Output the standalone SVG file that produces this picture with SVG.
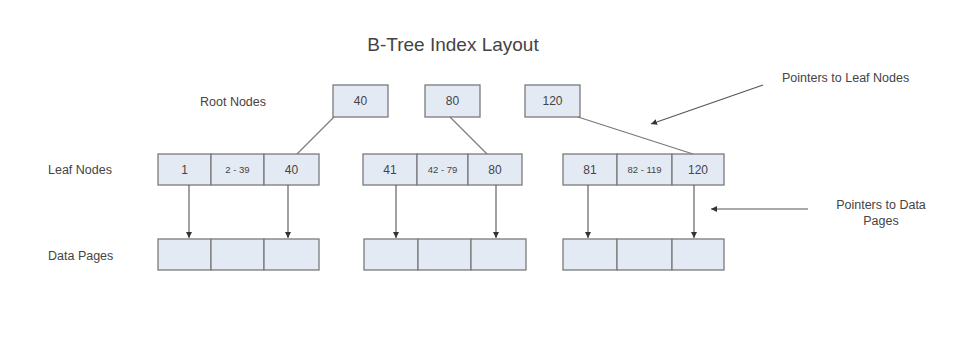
<svg xmlns="http://www.w3.org/2000/svg" width="977" height="340" viewBox="0 0 977 340">
<style>
.bx{fill:#e4eaf4;stroke:#7a7a7a;stroke-width:1.3}
.t{font-family:"Liberation Sans",Arial,sans-serif;fill:#444;font-size:12px;text-anchor:middle}
.ts{font-size:9.5px}
.lbl{font-family:"Liberation Sans",Arial,sans-serif;fill:#444;font-size:12.5px}
.ln{stroke:#777;stroke-width:1.1;fill:none}
.ar{stroke:#555;stroke-width:1.1;fill:none;marker-end:url(#ah)}
</style>
<defs>
<marker id="ah" markerWidth="8" markerHeight="8" refX="6" refY="3" orient="auto" markerUnits="userSpaceOnUse">
<path d="M0,0 L6,3 L0,6 z" fill="#333"/>
</marker>
</defs>
<rect width="977" height="340" fill="#fff"/>
<text x="453" y="51" class="t" style="font-size:19px;fill:#444">B-Tree Index Layout</text>
<g id="labels">
<text x="200" y="106" class="lbl">Root Nodes</text>
<text x="48" y="174" class="lbl">Leaf Nodes</text>
<text x="48" y="260" class="lbl">Data Pages</text>
<text x="782" y="82" class="lbl">Pointers to Leaf Nodes</text>
<text x="881" y="209" class="lbl" text-anchor="middle">Pointers to Data</text>
<text x="881" y="225" class="lbl" text-anchor="middle">Pages</text>
</g>
<g id="root40"><rect class="bx" x="333" y="85" width="55" height="32"/><text class="t" x="360.5" y="105">40</text></g>
<g id="root80"><rect class="bx" x="425" y="85" width="55" height="32"/><text class="t" x="452.5" y="105">80</text></g>
<g id="root120"><rect class="bx" x="525" y="85" width="55" height="32"/><text class="t" x="552.5" y="105">120</text></g>
<g id="leaf1">
<rect class="bx" x="158" y="154" width="53" height="31"/><text class="t" x="184.5" y="174">1</text>
<rect class="bx" x="211" y="154" width="53" height="31"/><text class="t ts" x="237.5" y="173">2 - 39</text>
<rect class="bx" x="264" y="154" width="55" height="31"/><text class="t" x="291.5" y="174">40</text>
</g>
<g id="leaf2">
<rect class="bx" x="363" y="154" width="54" height="31"/><text class="t" x="390" y="174">41</text>
<rect class="bx" x="417" y="154" width="51" height="31"/><text class="t ts" x="442.5" y="173">42 - 79</text>
<rect class="bx" x="468" y="154" width="54" height="31"/><text class="t" x="495" y="174">80</text>
</g>
<g id="leaf3">
<rect class="bx" x="563" y="154" width="54" height="31"/><text class="t" x="590" y="174">81</text>
<rect class="bx" x="617" y="154" width="55" height="31"/><text class="t ts" x="644.5" y="173">82 - 119</text>
<rect class="bx" x="672" y="154" width="52" height="31"/><text class="t" x="698" y="174">120</text>
</g>
<g id="data1">
<rect class="bx" x="158" y="239" width="53" height="31"/>
<rect class="bx" x="211" y="239" width="53" height="31"/>
<rect class="bx" x="264" y="239" width="55" height="31"/>
</g>
<g id="data2">
<rect class="bx" x="364" y="239" width="54" height="31"/>
<rect class="bx" x="418" y="239" width="53" height="31"/>
<rect class="bx" x="471" y="239" width="55" height="31"/>
</g>
<g id="data3">
<rect class="bx" x="563" y="239" width="54" height="31"/>
<rect class="bx" x="617" y="239" width="55" height="31"/>
<rect class="bx" x="672" y="239" width="52" height="31"/>
</g>
<g id="connectors">
<line class="ln" x1="334" y1="117" x2="297" y2="154"/>
<line class="ln" x1="450" y1="117" x2="487" y2="154"/>
<line class="ln" x1="578" y1="117" x2="693" y2="154"/>
<line class="ar" x1="189" y1="185" x2="189" y2="238"/>
<line class="ar" x1="288" y1="185" x2="288" y2="238"/>
<line class="ar" x1="396" y1="185" x2="396" y2="238"/>
<line class="ar" x1="496" y1="185" x2="496" y2="238"/>
<line class="ar" x1="588" y1="185" x2="588" y2="238"/>
<line class="ar" x1="694" y1="185" x2="694" y2="238"/>
<line class="ar" x1="763" y1="85" x2="651" y2="124"/>
<line class="ar" x1="808" y1="209" x2="711" y2="209"/>
</g>
</svg>
